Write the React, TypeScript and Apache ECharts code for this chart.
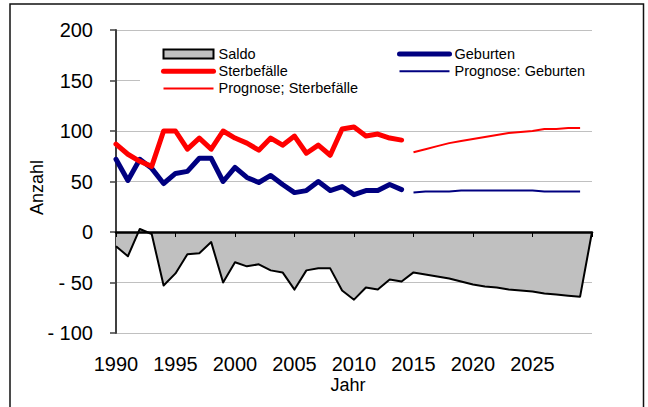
import { useEffect, useRef } from 'react';
import * as echarts from 'echarts';

const histYears = [1990, 1991, 1992, 1993, 1994, 1995, 1996, 1997, 1998, 1999, 2000, 2001, 2002, 2003, 2004, 2005, 2006, 2007, 2008, 2009, 2010, 2011, 2012, 2013, 2014];
const geburten = [72, 51, 72, 63, 48, 58, 60, 73, 73, 50, 64, 54, 49, 56, 47, 39, 41, 50, 41, 45, 37, 41, 41, 47, 42];
const sterbefaelle = [87, 77, 70, 65, 100, 100, 82, 93, 82, 100, 93, 88, 81, 93, 86, 95, 78, 86, 76, 102, 104, 95, 97, 93, 91];

const progYears = [2015, 2016, 2017, 2018, 2019, 2020, 2021, 2022, 2023, 2024, 2025, 2026, 2027, 2028, 2029];
const progGeburten = [39, 40, 40, 40, 41, 41, 41, 41, 41, 41, 41, 40, 40, 40, 40];
const progSterbefaelle = [79, 82, 85, 88, 90, 92, 94, 96, 98, 99, 100, 102, 102, 103, 103];

const saldoYears = [1990, 1991, 1992, 1993, 1994, 1995, 1996, 1997, 1998, 1999, 2000, 2001, 2002, 2003, 2004, 2005, 2006, 2007, 2008, 2009, 2010, 2011, 2012, 2013, 2014, 2015, 2016, 2017, 2018, 2019, 2020, 2021, 2022, 2023, 2024, 2025, 2026, 2027, 2028, 2029, 2030];
const saldo = [-14, -24, 3, -2, -53, -41, -22, -21, -10, -50, -30, -34, -32, -38, -40, -57, -38, -36, -36, -58, -67, -55, -57, -47, -49, -40, -42, -44, -46, -49, -52, -54, -55, -57, -58, -59, -61, -62, -63, -64, 0];

const xTicks = { min: 1990, max: 2030, interval: 5 };
const yTicks = { min: -100, max: 200, interval: 50 };

const FONT = '"Liberation Sans", Arial, sans-serif';
const RED = '#FF0000';
const NAVY = '#000080';

const pairs = (xs: number[], ys: number[]) => xs.map((x, i) => [x, ys[i]]);

export default function App() {
  const ref = useRef<HTMLDivElement>(null);
  useEffect(() => {
    const chart = echarts.init(ref.current!, null, { renderer: 'svg' });
    const legendText = { color: '#000', fontSize: 14.5, fontFamily: FONT };
    const option: any = {
      animation: false,
      textStyle: { fontFamily: FONT, color: '#000' },
      grid: { left: 116, right: 56, top: 30, bottom: 74, containLabel: false, outerBoundsMode: 'none' },
      legend: [
        {
          orient: 'vertical', left: 161, top: 46.5, padding: 0, itemWidth: 50, itemHeight: 9, itemGap: 2.2,
          selectedMode: false, textStyle: legendText,
          data: [
            { name: 'Saldo', icon: 'rect', itemStyle: { color: '#C0C0C0', borderColor: '#000', borderWidth: 2, opacity: 1 } },
            { name: 'Sterbefälle', lineStyle: { width: 5, color: RED, cap: 'round' }, itemStyle: { opacity: 0 } },
            { name: 'Prognose; Sterbefälle', lineStyle: { width: 2, color: RED }, itemStyle: { opacity: 0 } },
          ],
        },
        {
          orient: 'vertical', left: 397, top: 46.5, padding: 0, itemWidth: 50, itemHeight: 9, itemGap: 2.2,
          selectedMode: false, textStyle: legendText,
          data: [
            { name: 'Geburten', lineStyle: { width: 5, color: NAVY, cap: 'round' }, itemStyle: { opacity: 0 } },
            { name: 'Prognose: Geburten', lineStyle: { width: 2, color: NAVY }, itemStyle: { opacity: 0 } },
          ],
        },
      ],
      xAxis: [
        {
          type: 'value', position: 'bottom', ...xTicks, z: 10,
          axisLine: { show: true, onZero: true, lineStyle: { color: '#000', width: 2.5 } },
          axisTick: { show: true, length: 5, lineStyle: { color: '#000', width: 1 } },
          axisLabel: { show: false },
          splitLine: { show: false },
        },
        {
          type: 'value', position: 'bottom', ...xTicks,
          axisLine: { show: false, onZero: false },
          axisTick: { show: false },
          splitLine: { show: false },
          axisLabel: {
            show: true, margin: 21, fontSize: 20, color: '#000', fontFamily: FONT,
            formatter: (v: number) => (v === 2030 ? '' : String(v)),
          },
          name: 'Jahr', nameLocation: 'middle', nameGap: 42.5, nameMoveOverlap: false,
          nameTextStyle: { fontSize: 18, color: '#000', fontFamily: FONT, padding: [0, 12, 0, 0] },
        },
      ],
      yAxis: {
        type: 'value', ...yTicks,
        axisLine: { show: true, onZero: false, lineStyle: { color: '#404040', width: 2 } },
        axisTick: { show: true, length: 6, lineStyle: { color: '#404040', width: 1.5 } },
        splitLine: { show: true, lineStyle: { color: '#C0C0C0', width: 1 } },
        axisLabel: {
          margin: 23, fontSize: 20, color: '#000', fontFamily: FONT,
          formatter: (v: number) => (v < 0 ? '- ' + Math.abs(v) : String(v)),
        },
        name: 'Anzahl', nameLocation: 'middle', nameRotate: 90, nameGap: 70, nameMoveOverlap: false,
        nameTextStyle: { fontSize: 18, color: '#000', fontFamily: FONT, padding: [0, 12, 0, 0] },
      },
      graphic: [
        { type: 'rect', silent: true, z: 1, shape: { x: 140, y: 42, width: 452, height: 55 }, style: { fill: '#fff' } },
        { type: 'rect', silent: true, z: 100, shape: { x: 10, y: 4, width: 633.5, height: 430 }, style: { fill: 'none', stroke: '#111', lineWidth: 1.5 } },
      ],
      series: [
        {
          name: 'Saldo', type: 'line', xAxisIndex: 0, data: pairs(saldoYears, saldo), symbol: 'none', z: 2,
          itemStyle: { color: '#C0C0C0' },
          lineStyle: { color: '#000', width: 2, join: 'round' },
          areaStyle: { color: '#C0C0C0', opacity: 1 },
        },
        {
          name: 'Geburten', type: 'line', xAxisIndex: 0, data: pairs(histYears, geburten), symbol: 'none', z: 3,
          itemStyle: { color: NAVY }, lineStyle: { color: NAVY, width: 5, join: 'round', cap: 'round' },
        },
        {
          name: 'Sterbefälle', type: 'line', xAxisIndex: 0, data: pairs(histYears, sterbefaelle), symbol: 'none', z: 3,
          itemStyle: { color: RED }, lineStyle: { color: RED, width: 5, join: 'round', cap: 'round' },
        },
        {
          name: 'Prognose: Geburten', type: 'line', xAxisIndex: 0, data: pairs(progYears, progGeburten), symbol: 'none', z: 3,
          itemStyle: { color: NAVY }, lineStyle: { color: NAVY, width: 2 },
        },
        {
          name: 'Prognose; Sterbefälle', type: 'line', xAxisIndex: 0, data: pairs(progYears, progSterbefaelle), symbol: 'none', z: 3,
          itemStyle: { color: RED }, lineStyle: { color: RED, width: 2 },
        },
      ],
    };
    chart.setOption(option);
    return () => chart.dispose();
  }, []);
  return <div ref={ref} style={{ position: 'absolute', left: 0, top: 0, width: 648, height: 407 }} />;
}
